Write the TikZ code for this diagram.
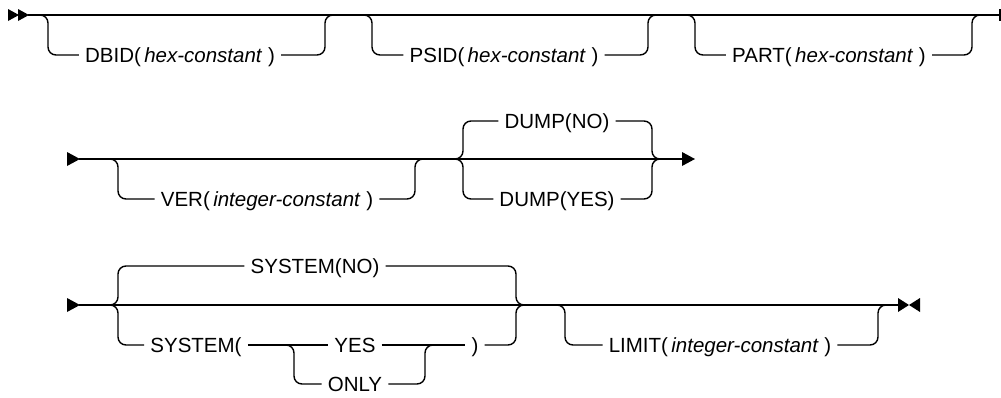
\documentclass[tikz,border=0pt]{standalone}
\usepackage{fontspec}
\setmainfont{Liberation Sans}
\begin{document}
\begin{tikzpicture}[x=1pt,y=-1pt,
  rail/.style={line width=1.4pt, rounded corners=8pt},
  lbl/.style={inner xsep=6pt, inner ysep=0pt, text height=14.6pt, text depth=0pt,
    font=\fontsize{20.5}{24}\selectfont, anchor=center},
  tip/.style={fill=black}]
\useasboundingbox (0,0) rectangle (1001,397);

% ---------- row 1 ----------
\fill[tip] (8,9) -- (19,15) -- (8,21) -- cycle;
\fill[tip] (18,9) -- (29,15) -- (18,21) -- cycle;
\coordinate (r1s) at (28,15);
\coordinate (r1e) at (1000,15);
\draw[rail] (r1s) -- (r1e);
\draw[line width=1.6pt] (999.7,9) -- (999.7,21);

\node[lbl] (dbid) at (180,55) {DBID(\,\textit{hex-constant}\ )};
\coordinate (d1a) at (38,15); \coordinate (d1b) at (333,15);
\draw[rail] (d1a) -- ++(10,0) |- (dbid.west);
\draw[rail] (d1b) -- ++(-8,0) |- (dbid.east);

\node[lbl] (psid) at (504,55) {PSID(\,\textit{hex-constant}\ )};
\coordinate (d2a) at (362,15); \coordinate (d2b) at (656,15);
\draw[rail] (d2a) -- ++(10,0) |- (psid.west);
\draw[rail] (d2b) -- ++(-8,0) |- (psid.east);

\node[lbl] (part) at (829,55) {PART(\,\textit{hex-constant}\ )};
\coordinate (d3a) at (685,15); \coordinate (d3b) at (980,15);
\draw[rail] (d3a) -- ++(10,0) |- (part.west);
\draw[rail] (d3b) -- ++(-8,0) |- (part.east);

% ---------- row 2 ----------
\fill[tip] (67,152) -- (80,159) -- (67,166) -- cycle;
\coordinate (r2s) at (79,159);
\coordinate (r2e) at (683,159);
\draw[rail] (r2s) -- (r2e);
\fill[tip] (682,152) -- (695,159) -- (682,166) -- cycle;

\node[lbl] (ver) at (267,199) {VER(\,\textit{integer-constant}\ )};
\coordinate (v1a) at (108,159); \coordinate (v1b) at (423,159);
\draw[rail] (v1a) -- ++(10,0) |- (ver.west);
\draw[rail] (v1b) -- ++(-8,0) |- (ver.east);

\node[lbl] (dno) at (557,121) {DUMP(NO)};
\node[lbl] (dyes) at (557,199) {DUMP(YES)};
\coordinate (du1) at (455,159); \coordinate (du2) at (660,159);
\draw[rail] (du1) -- ++(8,0) |- (dno.west);
\draw[rail] (du1) -- ++(8,0) |- (dyes.west);
\draw[rail] (du2) -- ++(-8,0) |- (dno.east);
\draw[rail] (du2) -- ++(-8,0) |- (dyes.east);

% ---------- row 3 ----------
\fill[tip] (67,298) -- (80,305) -- (67,312) -- cycle;
\coordinate (r3s) at (79,305);
\coordinate (r3e) at (898,305);
\draw[rail] (r3s) -- (r3e);
\fill[tip] (898,298) -- (909,305) -- (898,312) -- cycle;
\fill[tip] (920,298) -- (909,305) -- (920,312) -- cycle;

\node[lbl] (sno) at (315,266) {SYSTEM(NO)};
\node[lbl] (sys) at (196,345) {SYSTEM(};
\node[lbl] (yes) at (355,345) {YES};
\node[lbl] (only) at (355,384) {ONLY};
\node[lbl] (rp) at (475,345) {)};
\coordinate (s1) at (110,305); \coordinate (s2) at (523,305);
\draw[rail] (s1) -- ++(8,0) |- (sno.west);
\draw[rail] (s1) -- ++(8,0) |- (sys.west);
\draw[rail] (s2) -- ++(-7,0) |- (sno.east);
\draw[rail] (s2) -- ++(-7,0) |- (rp.east);
\draw[rail] (sys.east) -- (yes.west);
\draw[rail] (yes.east) -- (rp.west);
\coordinate (o1) at (286,345); \coordinate (o2) at (432,345);
\draw[rail] (o1) -- ++(8,0) |- (only.west);
\draw[rail] (o2) -- ++(-7,0) |- (only.east);

\node[lbl] (limit) at (720,345) {LIMIT(\,\textit{integer-constant}\ )};
\coordinate (l1) at (557,305); \coordinate (l2) at (887,305);
\draw[rail] (l1) -- ++(8,0) |- (limit.west);
\draw[rail] (l2) -- ++(-9,0) |- (limit.east);
\end{tikzpicture}
\end{document}
